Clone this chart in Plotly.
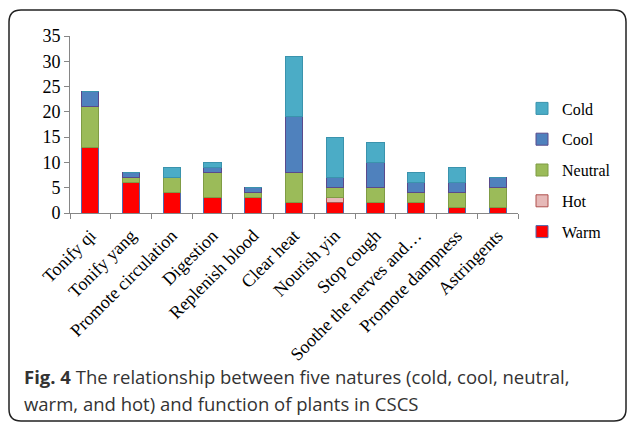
import plotly.graph_objects as go

categories = ["Tonify qi", "Tonify yang", "Promote circulation", "Digestion",
              "Replenish blood", "Clear heat", "Nourish yin", "Stop cough",
              "Soothe the nerves and…", "Promote dampness", "Astringents"]
warm    = [13, 6, 4, 3, 3, 2, 2, 2, 2, 1, 1]
hot     = [0, 0, 0, 0, 0, 0, 1, 0, 0, 0, 0]
neutral = [8, 1, 3, 5, 1, 6, 2, 3, 2, 3, 4]
cool    = [3, 1, 0, 1, 1, 11, 2, 5, 2, 2, 2]
cold    = [0, 0, 2, 1, 0, 12, 8, 4, 2, 3, 0]
y_ticks = [0, 5, 10, 15, 20, 25, 30, 35]

W, H = 630, 423
ML, MR, MT, MB = 70, 112, 36, 210
PW, PH = W - ML - MR, H - MT - MB

def px(x):
    return (x - ML) / PW

def py(y):
    return (H - MB - y) / PH

series = [
    ("Warm", warm, "#FF0000", "#4F6BAF"),
    ("Hot", hot, "#E6B9B8", "#B0504D"),
    ("Neutral", neutral, "#9BBB59", "#7F9C45"),
    ("Cool", cool, "#4F81BD", "#5A4A8C"),
    ("Cold", cold, "#4BACC6", "#3A93AD"),
]

fig = go.Figure()
for i, (name, vals, col, lc) in enumerate(series):
    fig.add_trace(go.Bar(
        x=categories, y=vals, name=name,
        marker=dict(color=col, line=dict(color=lc, width=1)),
        legendgroup=name, legendrank=len(series) - i,
    ))

# rounded border frame (pixel coordinates converted to paper)
x0, y0, x1, y1, r = 9, 10, 626, 421, 12
path = (f"M {px(x0+r)},{py(y0)} L {px(x1-r)},{py(y0)} "
        f"Q {px(x1)},{py(y0)} {px(x1)},{py(y0+r)} "
        f"L {px(x1)},{py(y1-r)} Q {px(x1)},{py(y1)} {px(x1-r)},{py(y1)} "
        f"L {px(x0+r)},{py(y1)} Q {px(x0)},{py(y1)} {px(x0)},{py(y1-r)} "
        f"L {px(x0)},{py(y0+r)} Q {px(x0)},{py(y0)} {px(x0+r)},{py(y0)} Z")

fig.update_layout(
    width=W, height=H,
    margin=dict(l=ML, r=MR, t=MT, b=MB, autoexpand=False),
    barmode="stack",
    bargap=0.58,
    plot_bgcolor="white", paper_bgcolor="white",
    font=dict(family="Liberation Serif", color="black"),
    xaxis=dict(
        tickangle=-45, tickfont=dict(size=18, family="Liberation Serif"),
        showline=True, linecolor="#868686", linewidth=1,
        ticks="outside", tickson="boundaries", ticklen=5, tickcolor="#868686",
        ticklabelstandoff=4,
        showgrid=False,
    ),
    yaxis=dict(
        range=[0, 35], tickvals=y_ticks,
        tickfont=dict(size=18, family="Liberation Serif"),
        showline=True, linecolor="#868686", linewidth=1,
        ticks="outside", ticklen=5, tickcolor="#868686",
        showgrid=False, zeroline=False,
    ),
    legend=dict(
        x=px(522), y=py(170), xanchor="left", yanchor="middle",
        traceorder="grouped", tracegroupgap=7,
        font=dict(size=16, family="Liberation Serif"),
        itemwidth=30,
    ),
    shapes=[dict(type="path", path=path, xref="paper", yref="paper",
                 line=dict(color="#222", width=1.5), fillcolor="rgba(0,0,0,0)")],
    annotations=[
        dict(xref="paper", yref="paper", x=px(22), y=py(376),
             xanchor="left", yanchor="middle", showarrow=False, align="left",
             text="<b>Fig. 4</b> The relationship between five natures (cold, cool, neutral,",
             font=dict(family="Open Sans", size=18.5, color="#333")),
        dict(xref="paper", yref="paper", x=px(22), y=py(403),
             xanchor="left", yanchor="middle", showarrow=False, align="left",
             text="warm, and hot) and function of plants in CSCS",
             font=dict(family="Open Sans", size=18.5, color="#333")),
    ],
)

fig.write_html("out.html", post_script="document.body.style.margin='0';",
               config={"displayModeBar": False})
